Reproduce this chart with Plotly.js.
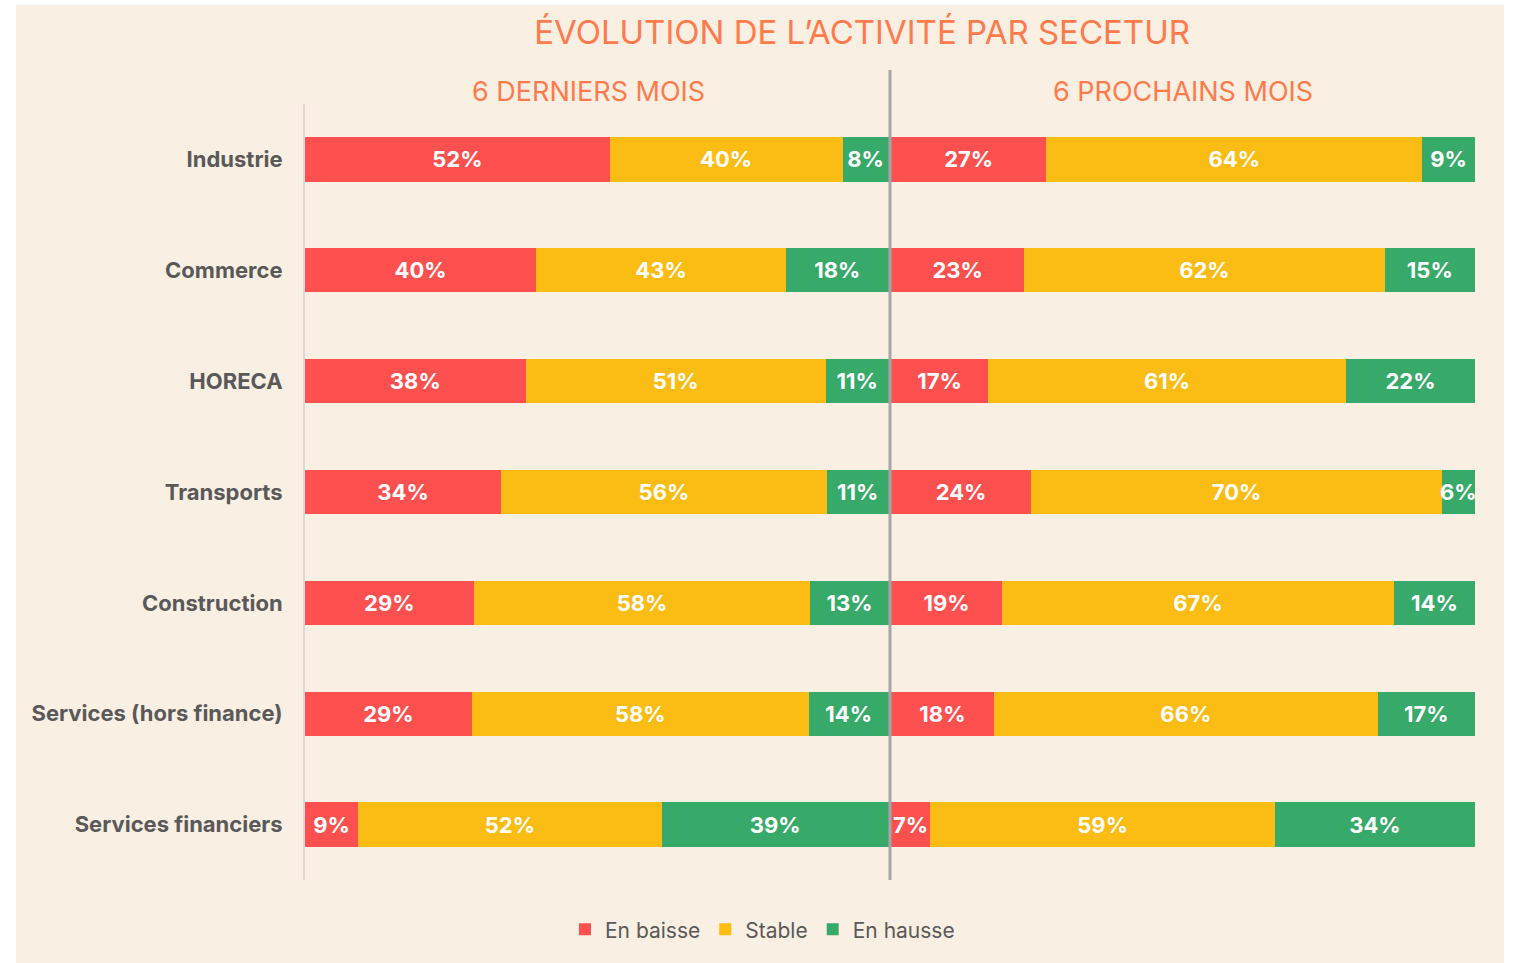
<!DOCTYPE html>
<html><head><meta charset="utf-8">
<script src="https://cdn.plot.ly/plotly-3.0.1.min.js"></script>
<style>
html,body{margin:0;padding:0;background:#ffffff;width:1514px;height:963px;overflow:hidden}
#chart{position:absolute;left:16px;top:5px;width:1488px;height:958px}
</style></head>
<body><div id="chart"></div>
<script>
// Categories (top to bottom)
const sectors = ["Industrie","Commerce","HORECA","Transports","Construction","Services (hors finance)","Services financiers"];
const seriesNames = ["En baisse","Stable","En hausse"];
// 6 derniers mois (%)
const pastBaisse  = [52.2, 39.6, 37.8, 33.6, 28.9, 28.6, 9.1];
const pastStable  = [39.9, 42.8, 51.4, 55.8, 57.7, 57.7, 52.0];
const pastHausse  = [7.9, 17.6, 10.8, 10.6, 13.4, 13.7, 38.9];
// 6 prochains mois (%)
const nextBaisse  = [26.6, 22.8, 16.6, 24.0, 19.0, 17.6, 6.7];
const nextStable  = [64.4, 61.8, 61.4, 70.4, 67.2, 65.8, 59.1];
const nextHausse  = [9.0, 15.4, 22.0, 5.6, 13.8, 16.6, 34.2];

const colors = ["#FF5050","#FBBC13","#37AA6A"];
const labelFont = {family:"Inter, Arial, sans-serif", size:22, color:"#ffffff", weight:"bold"};

function mk(vals, i, xa, show){
  return {type:"bar", orientation:"h", x:vals, y:sectors, name:seriesNames[i],
    xaxis:xa, yaxis:"y", marker:{color:colors[i], line:{width:0}},
    texttemplate:"%{x:.0f}%", textposition:"inside", insidetextanchor:"middle",
    textangle:0, constraintext:"none", textfont:labelFont, showlegend:show,
    cliponaxis:false, hoverinfo:"skip"};
}
const data = [
  mk(pastBaisse,0,"x",true), mk(pastStable,1,"x",true), mk(pastHausse,2,"x",true),
  mk(nextBaisse,0,"x2",false), mk(nextStable,1,"x2",false), mk(nextHausse,2,"x2",false)
];
const orange = "#FF7B4C";
const layout = {
  width:1488, height:958,
  paper_bgcolor:"#FAEFE3", plot_bgcolor:"rgba(0,0,0,0)",
  margin:{l:289, r:29, t:99, b:83},
  barmode:"stack", bargap:0.6,
  uniformtext:{mode:"show", minsize:22},
  font:{family:"Inter, Arial, sans-serif", color:"#595959"},
  title:{text:"ÉVOLUTION DE L’ACTIVITÉ PAR SECETUR", font:{size:33, color:orange, family:"Inter, Arial, sans-serif"},
    x:0.5686, xanchor:"center", xref:"container", y:0.971, yanchor:"middle", yref:"container"},
  xaxis:{domain:[0,0.4991], range:[0,100.05], showticklabels:false, showgrid:false, zeroline:false, fixedrange:true},
  xaxis2:{domain:[0.5009,1], range:[0,100.05], showticklabels:false, showgrid:false, zeroline:false, fixedrange:true},
  yaxis:{autorange:"reversed", showgrid:false, zeroline:false, showline:true, linecolor:"#D9D9D9", linewidth:2,
    ticks:"outside", ticklen:16, tickcolor:"rgba(0,0,0,0)",
    tickfont:{size:22, color:"#595959", weight:"bold", family:"Inter, Arial, sans-serif"}},
  legend:{orientation:"h", x:0.391, xanchor:"center", y:-0.064, yanchor:"middle",
    font:{size:21, color:"#595959"}, bgcolor:"rgba(0,0,0,0)", traceorder:"normal", itemwidth:30},
  shapes:[{type:"line", xref:"paper", yref:"paper", x0:0.5, x1:0.5, y0:0, y1:1.0438,
    line:{color:"#A6A6A6", width:3}}],
  annotations:[
    {text:"6 DERNIERS MOIS", xref:"paper", yref:"paper", x:0.242, y:1.0155, xanchor:"center", yanchor:"middle",
      showarrow:false, font:{size:27, color:orange}},
    {text:"6 PROCHAINS MOIS", xref:"paper", yref:"paper", x:0.7508, y:1.0155, xanchor:"center", yanchor:"middle",
      showarrow:false, font:{size:27, color:orange}}
  ]
};
Plotly.newPlot("chart", data, layout, {displayModeBar:false, staticPlot:true});
</script></body></html>
